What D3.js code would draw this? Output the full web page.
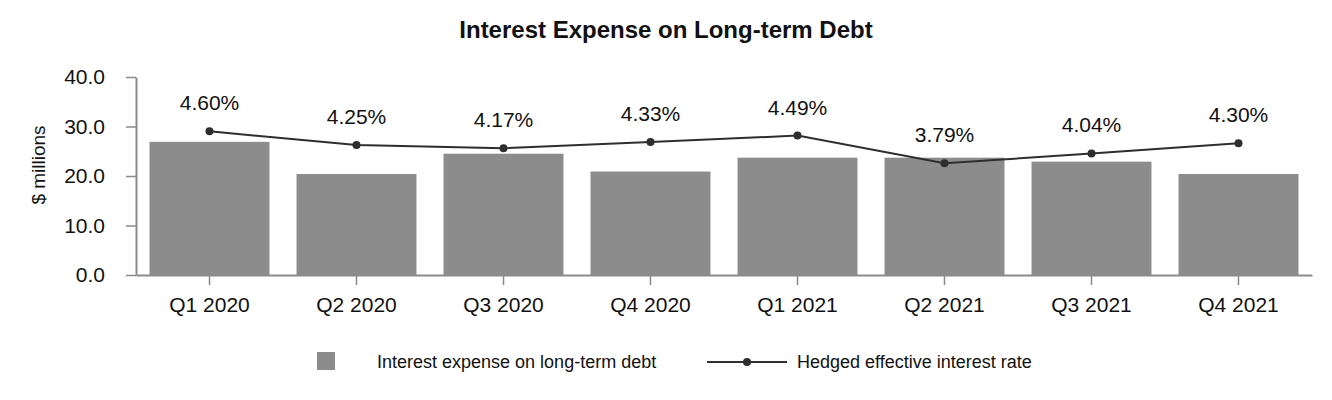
<!DOCTYPE html>
<html>
<head>
<meta charset="utf-8">
<script src="https://cdn.jsdelivr.net/npm/d3@7"></script>
<style>
  body { margin: 0; background: #fff; }
  svg text { font-family: "Liberation Sans", Arial, sans-serif; fill: #111; }
</style>
</head>
<body>
<svg id="chart" width="1332" height="400"></svg>
<script>
const quarters = ["Q1 2020", "Q2 2020", "Q3 2020", "Q4 2020", "Q1 2021", "Q2 2021", "Q3 2021", "Q4 2021"];
const interestExpense = [26.9, 20.4, 24.5, 20.9, 23.7, 23.7, 22.9, 20.4];
const hedgedRate = [4.60, 4.25, 4.17, 4.33, 4.49, 3.79, 4.04, 4.30];
const yTicks = [0, 10, 20, 30, 40];

const svg = d3.select("#chart");
const barColor = "#8c8c8c";
const lineColor = "#2e2e2e";
const axisColor = "#8a8a8a";

const x = d3.scaleBand().domain(quarters).range([136, 1312]).paddingInner(0.184).paddingOuter(0.092);
const y = d3.scaleLinear().domain([0, 40]).range([275, 77]);
// hidden secondary scale for the rate line
const yRate = d3.scaleLinear().domain([0.97, 5.97]).range([275, 77]);

// title
svg.append("text")
    .attr("x", 666).attr("y", 38)
    .attr("text-anchor", "middle")
    .style("font-size", "24px").style("font-weight", "bold")
    .text("Interest Expense on Long-term Debt");

// y axis label
svg.append("text")
    .attr("transform", "translate(45,165) rotate(-90)")
    .attr("text-anchor", "middle")
    .style("font-size", "19px")
    .text("$ millions");

// bars
svg.append("g").selectAll("rect")
    .data(interestExpense)
    .join("rect")
    .attr("x", (d, i) => x(quarters[i]))
    .attr("y", d => y(d))
    .attr("width", x.bandwidth())
    .attr("height", d => y(0) - y(d))
    .attr("fill", barColor);

// y axis
const yAxis = svg.append("g")
    .attr("transform", "translate(136,0)")
    .call(d3.axisLeft(y).tickValues(yTicks).tickFormat(d3.format(".1f")).tickSize(10).tickSizeOuter(0).tickPadding(21));

// x axis
const xAxis = svg.append("g")
    .attr("transform", "translate(0,275)")
    .call(d3.axisBottom(x).tickSize(10).tickSizeOuter(0).tickPadding(12));

[yAxis, xAxis].forEach(g => {
    g.select(".domain").attr("stroke", axisColor).attr("stroke-width", 2);
    g.selectAll(".tick line").attr("stroke", axisColor).attr("stroke-width", 1.5);
    g.selectAll(".tick text").style("font-size", "21px").attr("fill", "#111")
        .style("font-family", "'Liberation Sans', Arial, sans-serif");
});

// rate line
const cx = (d, i) => x(quarters[i]) + x.bandwidth() / 2;
svg.append("path")
    .datum(hedgedRate)
    .attr("fill", "none")
    .attr("stroke", lineColor)
    .attr("stroke-width", 2)
    .attr("d", d3.line().x(cx).y(d => yRate(d)));

svg.append("g").selectAll("circle")
    .data(hedgedRate)
    .join("circle")
    .attr("cx", cx)
    .attr("cy", d => yRate(d))
    .attr("r", 4)
    .attr("fill", lineColor);

svg.append("g").selectAll("text")
    .data(hedgedRate)
    .join("text")
    .attr("x", cx)
    .attr("y", d => yRate(d) - 21)
    .attr("text-anchor", "middle")
    .style("font-size", "21px")
    .text(d => d.toFixed(2) + "%");

// legend
const legend = svg.append("g");
legend.append("rect")
    .attr("x", 317).attr("y", 352).attr("width", 18).attr("height", 18)
    .attr("fill", barColor);
legend.append("text")
    .attr("x", 377).attr("y", 368)
    .style("font-size", "18px")
    .text("Interest expense on long-term debt");
legend.append("line")
    .attr("x1", 707).attr("x2", 787).attr("y1", 362).attr("y2", 362)
    .attr("stroke", lineColor).attr("stroke-width", 2);
legend.append("circle")
    .attr("cx", 747).attr("cy", 362).attr("r", 4)
    .attr("fill", lineColor);
legend.append("text")
    .attr("x", 797).attr("y", 368)
    .style("font-size", "18px")
    .text("Hedged effective interest rate");
</script>
</body>
</html>
